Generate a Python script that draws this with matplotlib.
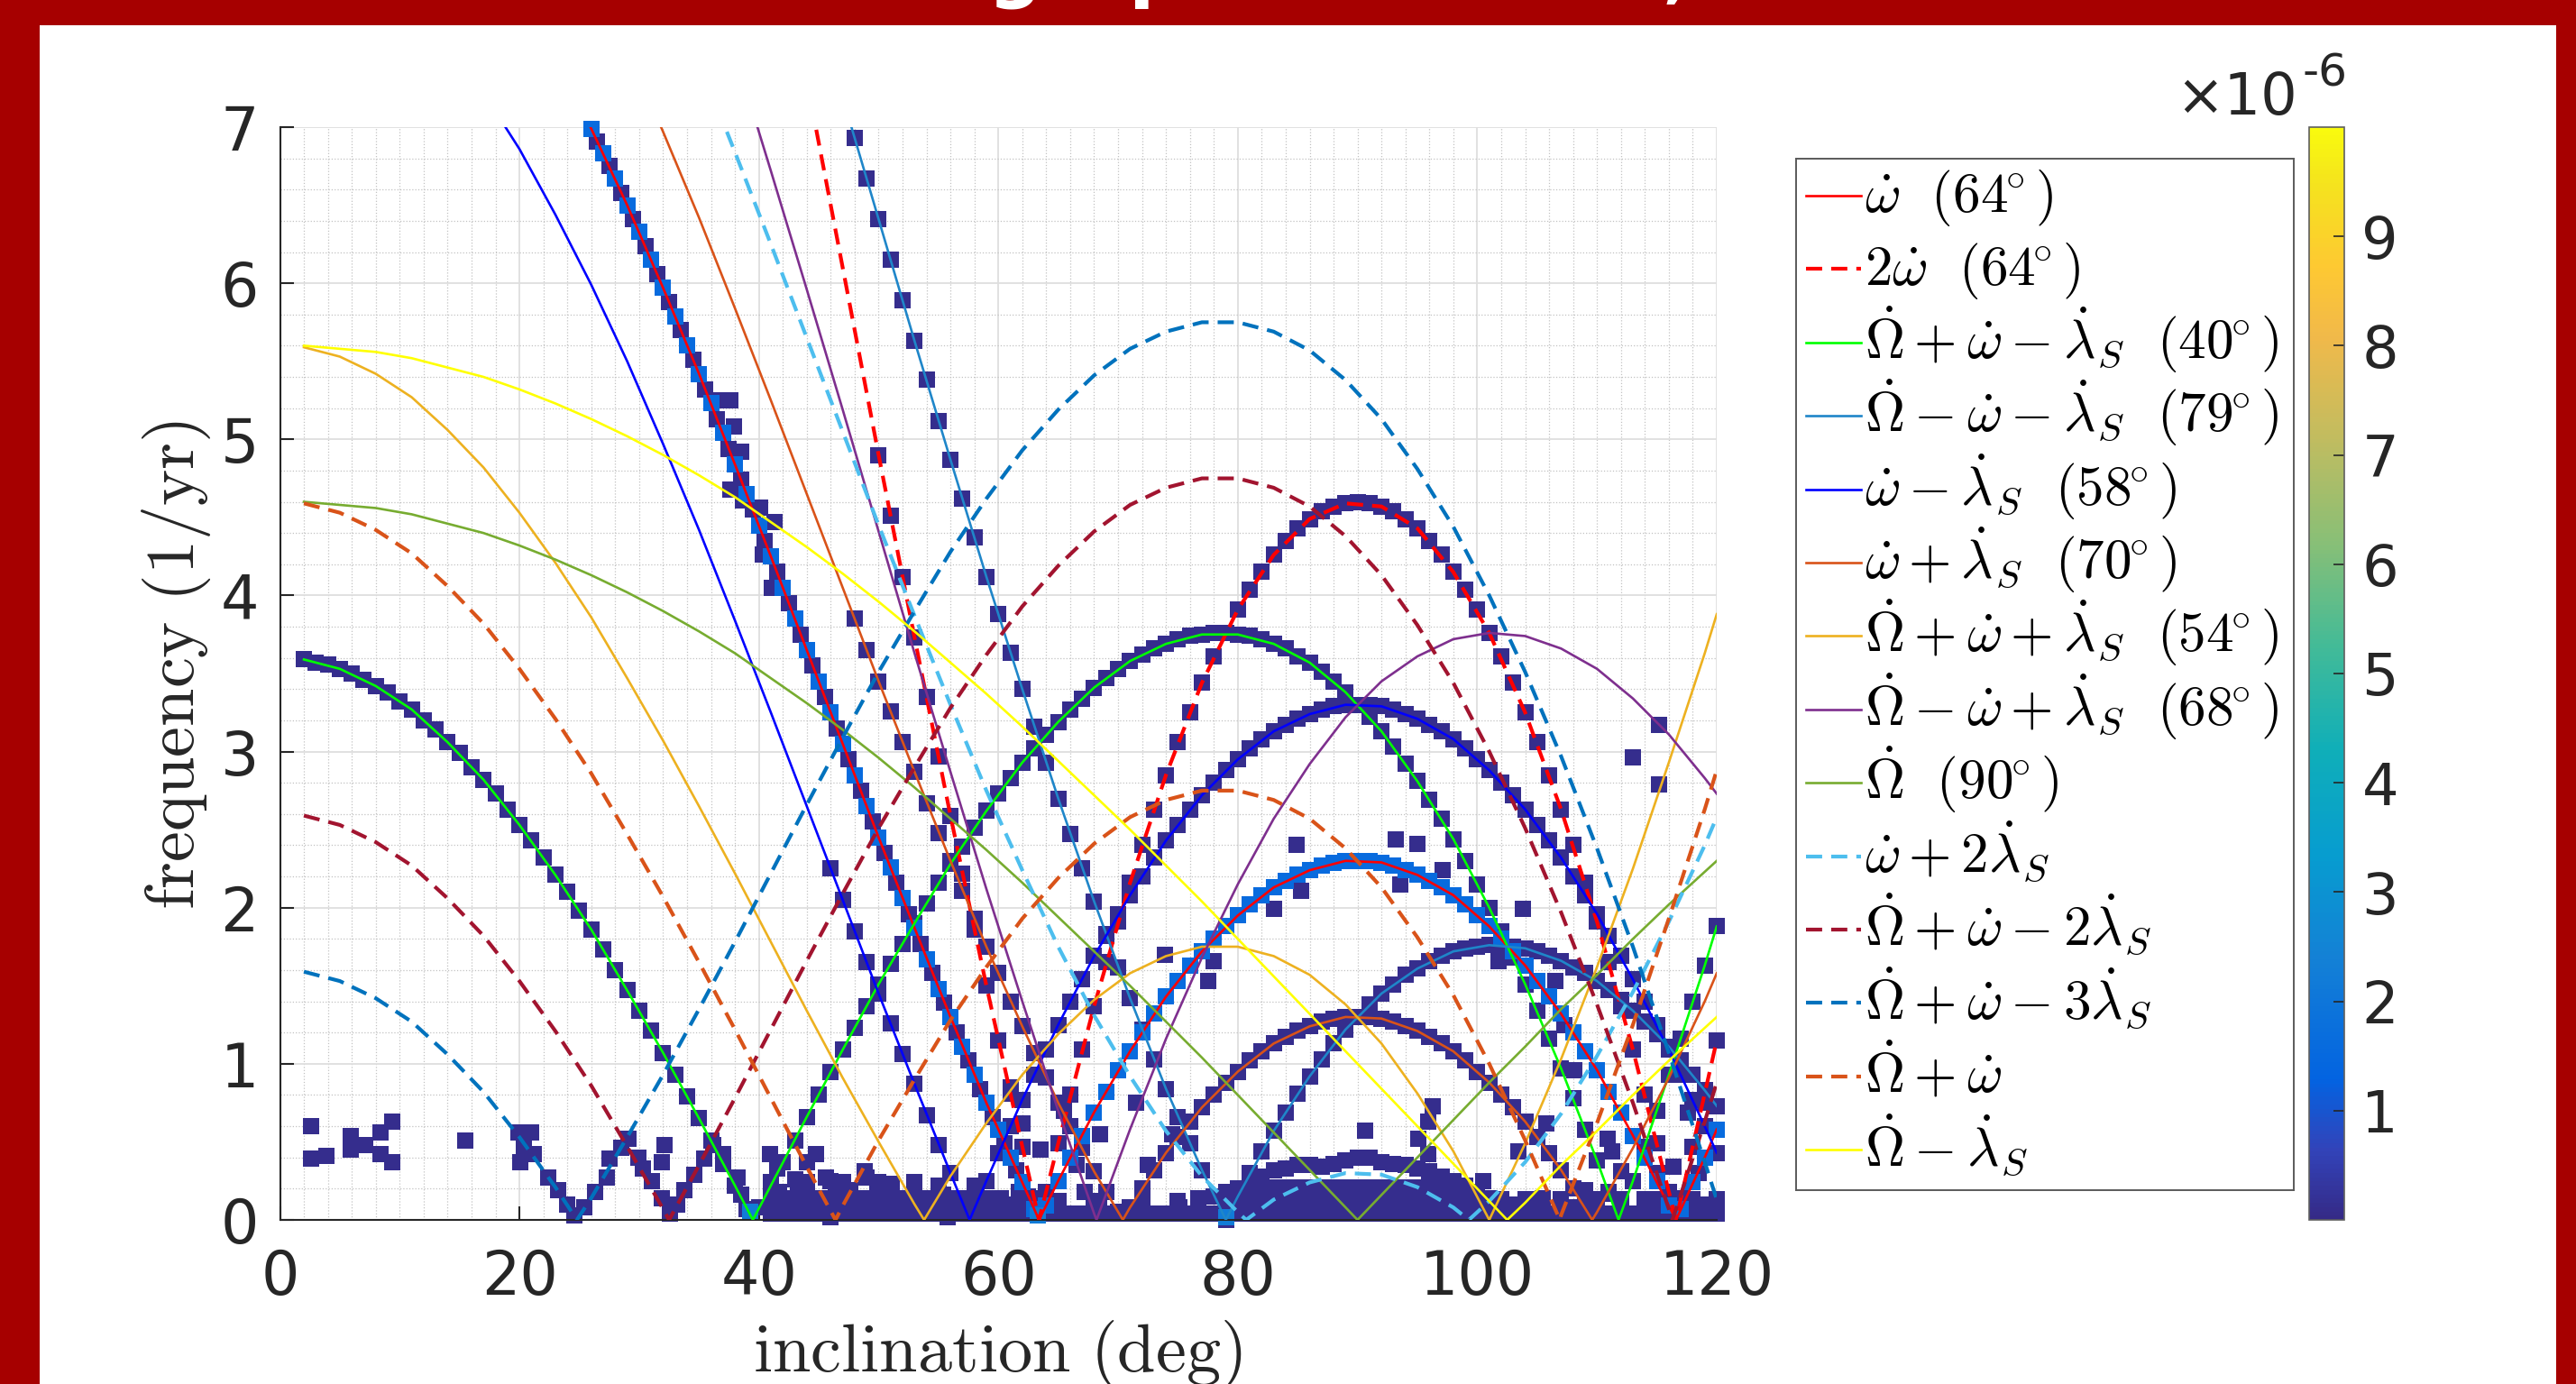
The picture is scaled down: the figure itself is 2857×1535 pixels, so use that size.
import numpy as np
import matplotlib.pyplot as plt
from matplotlib.colors import LinearSegmentedColormap, Normalize
from matplotlib.cm import ScalarMappable
from matplotlib.patches import Rectangle
from matplotlib.ticker import MultipleLocator

plt.rcParams['mathtext.fontset'] = 'cm'
plt.rcParams['font.family'] = ['DejaVu Sans']

nan = np.nan

# ---- analytic resonance curves, read on a 3 deg inclination grid ----
line_inc = [2, 5, 8, 11, 14, 17, 20, 23, 26, 29, 32, 35, 38, 41, 44, 47, 50, 53, 56, 59,
            62, 65, 68, 71, 74, 77, 80, 83, 86, 89, 92, 95, 98, 101, 104, 107, 110, 113, 116, 119, 120]

f_w = [nan] * 7 + [7.44, 6.99, 6.50, 5.97, 5.42, 4.84, 4.25, 3.65, 3.05, 2.45, 1.87, 1.30, 0.75, 0.24,
                   0.25, 0.69, 1.08, 1.43, 1.72, 1.95, 2.13, 2.24, 2.30, 2.29, 2.21, 2.08, 1.88, 1.63,
                   1.32, 0.96, 0.54, 0.09, 0.40, 0.58]
f_2w = [nan] * 14 + [7.30, 6.10, 4.90, 3.73, 2.59, 1.50, 0.47, 0.49, 1.37, 2.16, 2.85, 3.44, 3.91, 4.26,
                     4.49, 4.59, 4.57, 4.43, 4.15, 3.76, 3.25, 2.63, 1.91, 1.09, 0.18, 0.81, 1.15]
f_OpWmS = [3.59, 3.53, 3.42, 3.27, 3.06, 2.82, 2.53, 2.21, 1.86, 1.47, 1.07, 0.65, 0.22, 0.22, 0.66,
           1.09, 1.51, 1.90, 2.28, 2.62, 2.93, 3.19, 3.41, 3.58, 3.69, 3.75, 3.75, 3.69, 3.57, 3.38,
           3.13, 2.81, 2.44, 2.00, 1.51, 0.97, 0.38, 0.25, 0.93, 1.63, 1.88]
f_OmWmS = [nan] * 14 + [7.96, 7.19, 6.41, 5.63, 4.87, 4.12, 3.40, 2.70, 2.04, 1.42, 0.84, 0.32, 0.15, 0.57,
                        0.92, 1.22, 1.45, 1.61, 1.72, 1.76, 1.74, 1.66, 1.53, 1.34, 1.11, 0.83, 0.73]
f_WmS = [nan] * 4 + [7.53, 7.22, 6.86, 6.44, 5.99, 5.50, 4.97, 4.42, 3.84, 3.25, 2.65, 2.05, 1.45, 0.87,
                     0.30, 0.25, 0.77, 1.25, 1.69, 2.08, 2.43, 2.72, 2.95, 3.13, 3.24, 3.30, 3.29, 3.21,
                     3.08, 2.88, 2.63, 2.32, 1.96, 1.54, 1.09, 0.60, 0.43]
f_WpS = [nan] * 8 + [7.99, 7.50, 6.97, 6.42, 5.84, 5.25, 4.65, 4.05, 3.45, 2.87, 2.30, 1.75, 1.24, 0.75,
                     0.31, 0.08, 0.43, 0.72, 0.95, 1.13, 1.24, 1.30, 1.29, 1.21, 1.08, 0.88, 0.63, 0.32,
                     0.05, 0.46, 0.91, 1.40, 1.58]
f_OpWpS = [5.59, 5.53, 5.42, 5.27, 5.06, 4.82, 4.53, 4.21, 3.86, 3.47, 3.07, 2.65, 2.22, 1.78, 1.34,
           0.91, 0.50, 0.10, 0.28, 0.62, 0.93, 1.19, 1.41, 1.58, 1.69, 1.75, 1.75, 1.69, 1.57, 1.38,
           1.13, 0.81, 0.44, 0.00, 0.49, 1.03, 1.62, 2.25, 2.93, 3.63, 3.88]
f_OmWpS = [nan] * 12 + [7.47, 6.72, 5.96, 5.19, 4.41, 3.63, 2.87, 2.12, 1.40, 0.70, 0.04, 0.58, 1.16, 1.68,
                        2.15, 2.57, 2.92, 3.22, 3.45, 3.61, 3.72, 3.76, 3.74, 3.66, 3.53, 3.34, 3.11, 2.83, 2.73]
f_O = [4.60, 4.58, 4.56, 4.52, 4.46, 4.40, 4.32, 4.23, 4.13, 4.02, 3.90, 3.77, 3.63, 3.47, 3.31,
       3.14, 2.96, 2.77, 2.57, 2.37, 2.16, 1.94, 1.72, 1.50, 1.27, 1.04, 0.80, 0.56, 0.32, 0.08,
       0.16, 0.40, 0.64, 0.88, 1.11, 1.35, 1.57, 1.80, 2.02, 2.23, 2.30]
f_Wp2S = [nan] * 11 + [7.42, 6.84, 6.25, 5.65, 5.05, 4.45, 3.87, 3.30, 2.75, 2.24, 1.75, 1.31, 0.92, 0.57,
                       0.28, 0.05, 0.13, 0.24, 0.30, 0.29, 0.21, 0.08, 0.12, 0.37, 0.68, 1.05, 1.46, 1.91,
                       2.40, 2.58]
f_OpWm2S = [2.59, 2.53, 2.42, 2.27, 2.06, 1.82, 1.53, 1.21, 0.86, 0.47, 0.07, 0.35, 0.78, 1.22, 1.66,
            2.09, 2.51, 2.90, 3.28, 3.62, 3.93, 4.19, 4.41, 4.58, 4.69, 4.75, 4.75, 4.69, 4.57, 4.38,
            4.13, 3.81, 3.44, 3.00, 2.51, 1.97, 1.38, 0.75, 0.07, 0.63, 0.88]
f_OpWm3S = [1.59, 1.53, 1.42, 1.27, 1.06, 0.82, 0.53, 0.21, 0.14, 0.53, 0.93, 1.35, 1.78, 2.22, 2.66,
            3.09, 3.51, 3.90, 4.28, 4.62, 4.93, 5.19, 5.41, 5.58, 5.69, 5.75, 5.75, 5.69, 5.57, 5.38,
            5.13, 4.81, 4.44, 4.00, 3.51, 2.97, 2.38, 1.75, 1.07, 0.37, 0.13]
f_OpW = [4.59, 4.53, 4.42, 4.27, 4.06, 3.82, 3.53, 3.21, 2.86, 2.47, 2.07, 1.65, 1.22, 0.78, 0.34,
         0.09, 0.51, 0.90, 1.28, 1.62, 1.93, 2.19, 2.41, 2.58, 2.69, 2.75, 2.75, 2.69, 2.57, 2.38,
         2.13, 1.81, 1.44, 1.00, 0.51, 0.03, 0.62, 1.25, 1.93, 2.63, 2.88]
f_OmS = [5.60, 5.58, 5.56, 5.52, 5.46, 5.40, 5.32, 5.23, 5.13, 5.02, 4.90, 4.77, 4.63, 4.47, 4.31,
         4.14, 3.96, 3.77, 3.57, 3.37, 3.16, 2.94, 2.72, 2.50, 2.27, 2.04, 1.80, 1.56, 1.32, 1.08,
         0.84, 0.60, 0.36, 0.12, 0.11, 0.35, 0.57, 0.80, 1.02, 1.23, 1.30]

# inclinations where each curve touches zero (V corners)
z_w = [63.4, 116.6]
z_2w = [63.4, 116.6]
z_OpWmS = [39.5, 111.8]
z_OmWmS = [79.0]
z_WmS = [57.6]
z_WpS = [70.4, 109.6]
z_OpWpS = [53.8]
z_OmWpS = [68.2]
z_O = [90.0]
z_Wp2S = [80.7, 99.3]
z_OpWm2S = [32.5, 116.3]
z_OpWm3S = [24.8]
z_OpW = [46.4, 106.9]
z_OmS = [102.5]

deg = r'^{\!\!\circ}'
labels = [r'$\dot{\omega}\ \ (64' + deg + ')$',
          r'$2\dot{\omega}\ \ (64' + deg + ')$',
          r'$\dot{\Omega}+\dot{\omega}-\dot{\lambda}_S\ \ (40' + deg + ')$',
          r'$\dot{\Omega}-\dot{\omega}-\dot{\lambda}_S\ \ (79' + deg + ')$',
          r'$\dot{\omega}-\dot{\lambda}_S\ \ (58' + deg + ')$',
          r'$\dot{\omega}+\dot{\lambda}_S\ \ (70' + deg + ')$',
          r'$\dot{\Omega}+\dot{\omega}+\dot{\lambda}_S\ \ (54' + deg + ')$',
          r'$\dot{\Omega}-\dot{\omega}+\dot{\lambda}_S\ \ (68' + deg + ')$',
          r'$\dot{\Omega}\ \ (90' + deg + ')$',
          r'$\dot{\omega}+2\dot{\lambda}_S$',
          r'$\dot{\Omega}+\dot{\omega}-2\dot{\lambda}_S$',
          r'$\dot{\Omega}+\dot{\omega}-3\dot{\lambda}_S$',
          r'$\dot{\Omega}+\dot{\omega}$',
          r'$\dot{\Omega}-\dot{\lambda}_S$']

# ---- spectral peaks from the simulation (1 deg scan) ----
sc_OpWmS_inc = list(range(2, 121))
sc_OpWmS = [3.59, 3.57, 3.56, 3.53, 3.50, 3.46, 3.42, 3.38, 3.32, 3.27, 3.20, 3.14, 3.06, 2.99, 2.90,
            2.82, 2.73, 2.63, 2.53, 2.43, 2.32, 2.21, 2.10, 1.98, 1.86, 1.73, 1.60, 1.47, 1.34, 1.21,
            1.07, 0.93, 0.79, 0.65, 0.51, 0.36, 0.22, 0.07, 0.08, 0.22, 0.37, 0.51, 0.66, 0.80, 0.95,
            1.09, 1.23, 1.37, 1.51, 1.64, 1.77, 1.90, 2.03, 2.16, 2.28, 2.39, 2.51, 2.62, 2.73, 2.83,
            2.93, 3.02, 3.11, 3.19, 3.27, 3.34, 3.41, 3.47, 3.53, 3.58, 3.62, 3.66, 3.69, 3.72, 3.74,
            3.75, 3.76, 3.76, 3.75, 3.74, 3.72, 3.69, 3.66, 3.61, 3.57, 3.51, 3.45, 3.38, 3.30, 3.22,
            3.13, 3.03, 2.92, 2.81, 2.69, 2.57, 2.44, 2.30, 2.15, 2.00, 1.85, 1.68, 1.51, 1.34, 1.16,
            0.97, 0.78, 0.58, 0.38, 0.17, 0.04, 0.25, 0.47, 0.70, 0.93, 1.16, 1.40, 1.63, 1.88]
sc_w_inc = list(range(26, 121))
sc_w = [6.99, 6.83, 6.67, 6.50, 6.33, 6.15, 5.97, 5.79, 5.60, 5.42, 5.23, 5.04, 4.84, 4.65, 4.45,
        4.25, 4.05, 3.85, 3.65, 3.45, 3.25, 3.05, 2.85, 2.65, 2.45, 2.26, 2.06, 1.87, 1.67, 1.48,
        1.30, 1.11, 0.93, 0.75, 0.58, 0.40, 0.24, 0.07, 0.09, 0.25, 0.40, 0.54, 0.69, 0.82, 0.96,
        1.08, 1.20, 1.32, 1.43, 1.53, 1.63, 1.72, 1.80, 1.88, 1.95, 2.02, 2.08, 2.13, 2.17, 2.21,
        2.24, 2.27, 2.29, 2.30, 2.30, 2.30, 2.29, 2.27, 2.24, 2.21, 2.17, 2.13, 2.08, 2.02, 1.95,
        1.88, 1.80, 1.72, 1.63, 1.53, 1.43, 1.32, 1.20, 1.08, 0.96, 0.82, 0.69, 0.54, 0.40, 0.25,
        0.09, 0.07, 0.24, 0.40, 0.58]
sc_wh_inc = list(np.arange(26.5, 63.0, 1.0))
sc_wh = [6.91, 6.75, 6.58, 6.41, 6.24, 6.06, 5.88, 5.70, 5.51, 5.32, 5.13, 4.94, 4.74, 4.55, 4.35,
         4.15, 3.95, 3.75, 3.55, 3.35, 3.15, 2.95, 2.75, 2.55, 2.35, 2.16, 1.96, 1.77, 1.58, 1.39,
         1.20, 1.02, 0.84, 0.66, 0.49, 0.32, 0.15]
sc_2w_inc = list(range(50, 121))
sc_2w = [4.90, 4.51, 4.12, 3.73, 3.35, 2.97, 2.59, 2.22, 1.86, 1.50, 1.15, 0.81, 0.47, 0.14, 0.18,
         0.49, 0.80, 1.09, 1.37, 1.65, 1.91, 2.16, 2.40, 2.63, 2.85, 3.06, 3.25, 3.44, 3.61, 3.76,
         3.91, 4.04, 4.15, 4.26, 4.35, 4.43, 4.49, 4.54, 4.57, 4.59, 4.60, 4.59, 4.57, 4.54, 4.49,
         4.43, 4.35, 4.26, 4.15, 4.04, 3.91, 3.76, 3.61, 3.44, 3.25, 3.06, 2.85, 2.63, 2.40, 2.16,
         1.91, 1.65, 1.37, 1.09, 0.80, 0.49, 0.18, 0.14, 0.47, 0.81, 1.15]
sc_OmWmS_inc = list(range(48, 121))
sc_OmWmS = [6.93, 6.67, 6.41, 6.15, 5.89, 5.63, 5.38, 5.12, 4.87, 4.62, 4.37, 4.12, 3.88, 3.63, 3.40,
            3.16, 2.93, 2.70, 2.47, 2.25, 2.04, 1.83, 1.62, 1.42, 1.22, 1.03, 0.84, 0.66, 0.49, 0.32,
            0.15, 0.00, 0.15, 0.30, 0.44, 0.57, 0.69, 0.81, 0.92, 1.03, 1.13, 1.22, 1.30, 1.38, 1.45,
            1.51, 1.57, 1.61, 1.66, 1.69, 1.72, 1.74, 1.75, 1.76, 1.76, 1.75, 1.74, 1.72, 1.69, 1.66,
            1.62, 1.58, 1.53, 1.47, 1.41, 1.34, 1.27, 1.19, 1.11, 1.02, 0.93, 0.83, 0.73]
sc_WmS_inc = list(range(46, 121))
sc_WmS = [2.25, 2.05, 1.85, 1.65, 1.45, 1.26, 1.06, 0.87, 0.67, 0.48, 0.30, 0.11, 0.07, 0.25, 0.43,
          0.60, 0.77, 0.93, 1.09, 1.25, 1.40, 1.54, 1.69, 1.82, 1.96, 2.08, 2.20, 2.32, 2.43, 2.53,
          2.63, 2.72, 2.80, 2.88, 2.95, 3.02, 3.08, 3.13, 3.17, 3.21, 3.24, 3.27, 3.29, 3.30, 3.30,
          3.30, 3.29, 3.27, 3.24, 3.21, 3.17, 3.13, 3.08, 3.02, 2.95, 2.88, 2.80, 2.72, 2.63, 2.53,
          2.43, 2.32, 2.20, 2.08, 1.96, 1.82, 1.69, 1.54, 1.40, 1.25, 1.09, 0.93, 0.77, 0.60, 0.43]
sc_WpS_inc = list(range(48, 113))
sc_WpS = [3.85, 3.65, 3.45, 3.26, 3.06, 2.87, 2.67, 2.48, 2.30, 2.11, 1.93, 1.75, 1.58, 1.40, 1.24,
          1.07, 0.91, 0.75, 0.60, 0.46, 0.31, 0.18, 0.05, 0.08, 0.20, 0.32, 0.43, 0.53, 0.63, 0.72,
          0.80, 0.88, 0.95, 1.02, 1.08, 1.13, 1.17, 1.21, 1.24, 1.27, 1.29, 1.30, 1.30, 1.30, 1.29,
          1.27, 1.24, 1.21, 1.17, 1.13, 1.08, 1.02, 0.95, 0.88, 0.80, 0.72, 0.63, 0.53, 0.43, 0.32,
          0.20, 0.08, 0.05, 0.18, 0.31]

# low-frequency floor of peaks
dome_inc = list(range(79, 102))
dome_r1 = [0.04] * 23
dome_r2 = [0.12] * 23
dome_r3 = [0.18, 0.20] + [0.21] * 19 + [0.18, 0.14]
dome_top = [0.18, 0.20, 0.25, 0.28, 0.32, 0.33, 0.35, 0.35, 0.34, 0.36, 0.38, 0.40, 0.40, 0.37, 0.36,
            0.35, 0.33, 0.31, 0.28, 0.25, 0.22, 0.18, 0.14]
band_a_inc = list(range(41, 79))
band_a_r1 = [0.04] * 38
band_a_r2 = [0.14] * 20 + [nan, 0.12, nan, nan, 0.12, nan, nan, 0.12, nan, nan, nan, 0.12, nan, nan,
                           0.12, nan, nan, nan]
band_a3_inc = list(range(41, 61))
band_a_r3 = [0.24, nan, 0.26, 0.24, nan, 0.25, 0.24, nan, 0.27, 0.24, nan, nan, 0.24, nan, 0.22, nan,
             nan, 0.22, nan, nan]
band_b_inc = list(range(102, 121))
band_b_r1 = [0.04] * 19
band_b_r2 = [0.13, nan, 0.13, 0.13, nan, 0.13, nan, 0.13, 0.13, nan, 0.13, nan, 0.13, 0.13, nan, 0.13,
             0.13, nan, 0.13]
noise_inc = [2.6, 2.6, 3.9, 5.9, 5.9, 7.1, 8.4, 9.4, 8.4, 9.4, 15.5,
             19.9, 21.0, 20.4, 20.1, 21.2, 22.4, 23.2, 24.0, 24.6, 25.4, 26.3, 27.3, 27.5, 28.5, 29.1, 29.9, 30.3,
             31.1, 31.9, 32.6, 33.2, 33.8, 34.6, 35.4, 36.2, 32.1, 31.9, 37.0, 38.2, 38.5,
             40.9, 41.5, 41.7, 42.5, 43.3, 44.0, 44.8, 45.6, 46.4, 46.0, 47.6, 48.4, 48.8, 49.9, 50.3, 51.1,
             51.9, 52.7, 54.3, 55.4, 55.8, 57.4, 58.2, 59.4, 60.2,
             60.9, 61.7, 62.5, 64.9, 66.4, 67.2, 68.4, 70.0, 72.0, 73.5, 75.1, 76.7, 77.8,
             61.0, 62.0, 63.5, 65.5, 66.5, 68.5, 71.5, 72.5, 74.5,
             99.5, 100.5, 101.5, 103.0, 104.0, 105.5, 106.5, 108.0, 109.0, 110.0, 112.0, 113.0, 114.5, 115.5,
             117.0, 118.0, 119.0, 119.8, 100.5, 103.4, 105.8, 110.9, 111.3, 115.0, 118.5,
             90.6, 96.3, 95.9, 95.1, 95.9, 84.9, 85.3, 93.2, 95.0, 93.6, 97.1, 83.0, 78.0, 77.5, 73.9,
             103.8, 101.8, 106.5, 107.3, 108.1, 117.6, 116.4, 119.1, 113.0, 115.2, 115.2,
             36.6, 37.6, 37.9, 38.5, 37.6, 38.7, 40.1, 41.3, 40.3, 41.1]
noise_freq = [0.60, 0.39, 0.41, 0.54, 0.45, 0.48, 0.56, 0.63, 0.42, 0.37, 0.51,
              0.56, 0.56, 0.46, 0.37, 0.42, 0.27, 0.19, 0.10, 0.03, 0.08, 0.18, 0.27, 0.39, 0.46, 0.52, 0.40, 0.33,
              0.25, 0.14, 0.04, 0.10, 0.19, 0.29, 0.39, 0.48, 0.48, 0.37, 0.42, 0.27, 0.16,
              0.42, 0.33, 0.18, 0.08, 0.23, 0.37, 0.42, 0.27, 0.16, 0.02, 0.19, 0.08, 0.31, 0.19, 0.08, 0.23,
              0.12, 0.04, 0.08, 0.16, 0.02, 0.08, 0.19, 0.04, 0.14,
              0.10, 0.18, 0.04, 0.08, 0.04, 0.18, 0.08, 0.04, 0.06, 0.04, 0.08, 0.14, 0.04,
              0.85, 0.62, 0.45, 0.70, 0.35, 0.55, 0.75, 0.35, 0.55,
              0.04, 0.14, 0.04, 0.10, 0.04, 0.14, 0.04, 0.08, 0.19, 0.04, 0.08, 0.04, 0.12, 0.04,
              0.08, 0.04, 0.10, 0.04, 0.25, 0.44, 0.62, 0.52, 0.44, 0.30, 0.30,
              0.57, 0.73, 0.63, 0.52, 0.42, 2.40, 2.11, 2.44, 2.41, 2.15, 2.24, 1.99, 1.66, 1.53, 1.70,
              1.99, 1.66, 1.53, 1.25, 0.96, 0.69, 0.34, 0.75, 2.96, 2.79, 3.17,
              5.25, 5.25, 5.08, 4.92, 4.68, 4.61, 4.56, 4.47, 4.26, 4.05]
bright_inc = [39.3, 63.3, 79.0]
bright_freq = [0.05, 0.03, 0.02]

# peak amplitudes (colour scale)
amp_low = 0.1e-6
amp_w = 1.6e-6
amp_bright = 2.2e-6
clim = (0, 1e-5)
cbar_ticks = [1e-6, 2e-6, 3e-6, 4e-6, 5e-6, 6e-6, 7e-6, 8e-6, 9e-6]
cbar_ticklabels = ['1', '2', '3', '4', '5', '6', '7', '8', '9']

# parula-like colormap
parula = LinearSegmentedColormap.from_list('parula', [
    (0.000, (0.208, 0.166, 0.529)), (0.063, (0.196, 0.264, 0.728)),
    (0.127, (0.012, 0.388, 0.882)), (0.238, (0.078, 0.504, 0.838)),
    (0.333, (0.027, 0.614, 0.814)), (0.429, (0.059, 0.684, 0.725)),
    (0.524, (0.259, 0.732, 0.595)), (0.619, (0.530, 0.749, 0.466)),
    (0.714, (0.752, 0.738, 0.377)), (0.810, (0.945, 0.726, 0.289)),
    (0.873, (0.996, 0.786, 0.197)), (0.952, (0.959, 0.895, 0.113)),
    (1.000, (0.976, 0.983, 0.054))])
norm = Normalize(*clim)

W, H = 2857, 1535
fig = plt.figure(figsize=(W / 100, H / 100), dpi=100, facecolor='#A60000')
fig.patches.append(Rectangle((44 / W, 0), (2835 - 44) / W, (H - 28) / H,
                             transform=fig.transFigure, facecolor='white', edgecolor='none', zorder=-5))
# bottoms of the slide title that is cut off at the top
for ch, px in [('g', 1125), ('p', 1282), (',', 1859)]:
    fig.text(px / W, 1542 / H, ch, color='white', fontsize=60, fontweight='bold', ha='center', va='baseline')

ax = fig.add_axes([310.5 / W, (H - 1353) / H, 1593.5 / W, 1212 / H])
ax.set_facecolor('white')

# scatter of spectral peaks
sq = dict(marker='s', s=180, linewidths=0, zorder=2, clip_on=False)
dark = parula(norm(amp_low))
ax.scatter(sc_OpWmS_inc, sc_OpWmS, color=dark, **sq)
ax.scatter(sc_2w_inc, sc_2w, color=dark, **sq)
ax.scatter(sc_OmWmS_inc, sc_OmWmS, color=dark, **sq)
ax.scatter(sc_WmS_inc, sc_WmS, color=dark, **sq)
ax.scatter(sc_WpS_inc, sc_WpS, color=dark, **sq)
ax.scatter(noise_inc, noise_freq, color=dark, **sq)
for row in (dome_r1, dome_r2, dome_r3, dome_top):
    ax.scatter(dome_inc, row, color=dark, **sq)
for row in (band_a_r1, band_a_r2):
    ax.scatter(band_a_inc, row, color=dark, **sq)
ax.scatter(band_a3_inc, band_a_r3, color=dark, **sq)
for row in (band_b_r1, band_b_r2):
    ax.scatter(band_b_inc, row, color=dark, **sq)
ax.scatter(sc_wh_inc, sc_wh, color=dark, **sq)
ax.scatter(sc_w_inc, sc_w, color=parula(norm(amp_w)), **sq)
ax.scatter(bright_inc, bright_freq, color=parula(norm(amp_bright)), **sq)

curves = [
    (f_w, z_w, '#FF0000', '-'),
    (f_2w, z_2w, '#FF0000', '--'),
    (f_OpWmS, z_OpWmS, '#00FF00', '-'),
    (f_OmWmS, z_OmWmS, '#1F86C9', '-'),
    (f_WmS, z_WmS, '#0000FF', '-'),
    (f_WpS, z_WpS, '#D95319', '-'),
    (f_OpWpS, z_OpWpS, '#EDB120', '-'),
    (f_OmWpS, z_OmWpS, '#7E2F8E', '-'),
    (f_O, z_O, '#77AC30', '-'),
    (f_Wp2S, z_Wp2S, '#4DBEEE', '--'),
    (f_OpWm2S, z_OpWm2S, '#A2142F', '--'),
    (f_OpWm3S, z_OpWm3S, '#0072BD', '--'),
    (f_OpW, z_OpW, '#D95319', '--'),
    (f_OmS, z_OmS, '#FFFF00', '-'),
]

def style(ls):
    if ls == '--':
        return dict(lw=3.0, linestyle=(0, (4.3, 2.4)))
    return dict(lw=1.9, linestyle='-')

for vals, zs, col, ls in curves:
    x = np.array(line_inc + zs, float)
    y = np.array(vals + [0.0] * len(zs), float)
    o = np.argsort(x, kind='stable')
    ax.plot(x[o], y[o], color=col, zorder=3, **style(ls))

ax.set_xlim(0, 120)
ax.set_ylim(0, 7)
ax.set_xticks([0, 20, 40, 60, 80, 100, 120])
ax.set_yticks([0, 1, 2, 3, 4, 5, 6, 7])
ax.xaxis.set_minor_locator(MultipleLocator(2))
ax.yaxis.set_minor_locator(MultipleLocator(0.2))
ax.grid(which='major', color='#DEDEDE', lw=1.3)
ax.grid(which='minor', color='#C2C2C2', ls=':', lw=0.9)
ax.set_axisbelow(True)
for s in ('top', 'right'):
    ax.spines[s].set_visible(False)
for s in ('left', 'bottom'):
    ax.spines[s].set_color('#262626')
    ax.spines[s].set_linewidth(1.5)
ax.tick_params(which='major', direction='in', length=11, width=1.5, colors='#262626', labelsize=48)
ax.tick_params(axis='x', pad=22)
ax.tick_params(axis='y', pad=17)
ax.tick_params(which='minor', length=0)

fig.text(1106 / W, (H - 1521) / H, r'$\mathrm{inclination\ (deg)}$', fontsize=55,
         ha='center', va='baseline', color='#262626')
fig.text(196 / W, (H - 738) / H, r'$\mathrm{frequency\ (1/yr)}$', fontsize=55,
         ha='center', va='center', rotation=90, color='#262626')

# legend drawn by hand to match the original box
x0, x1, y0, y1 = 1992, 2544, 176, 1320
lax = fig.add_axes([x0 / W, (H - y1) / H, (x1 - x0) / W, (y1 - y0) / H])
lax.set_xlim(0, x1 - x0)
lax.set_ylim(y1 - y0, 0)
lax.set_xticks([])
lax.set_yticks([])
for s in lax.spines.values():
    s.set_color('#5A5A5A')
    s.set_linewidth(1.4)
for k, ((vals, zs, col, ls), lab) in enumerate(zip(curves, labels)):
    yk = 41 + 81.4 * k
    lax.plot([11, 72], [yk, yk], color=col, **style(ls))
    lax.text(76, yk + 18, lab, fontsize=44, va='baseline', ha='left', color='black')

# colorbar
cax = fig.add_axes([2561 / W, (H - 1353) / H, 39 / W, 1212 / H])
cb = fig.colorbar(ScalarMappable(norm=norm, cmap=parula), cax=cax, ticks=cbar_ticks)
cb.ax.set_yticklabels(cbar_ticklabels)
cb.outline.set_edgecolor('#5F5F5F')
cb.outline.set_linewidth(1.2)
cax.tick_params(direction='in', length=9, width=1.2, labelsize=46, pad=14, colors='#262626')
fig.text(2548 / W, (H - 127) / H, '\u00d710', fontsize=46, ha='right', va='baseline', color='#262626')
fig.text(2553 / W, (H - 96) / H, '-6', fontsize=36, ha='left', va='baseline', color='#262626')

fig.savefig('out.png', dpi=100, facecolor=fig.get_facecolor())
